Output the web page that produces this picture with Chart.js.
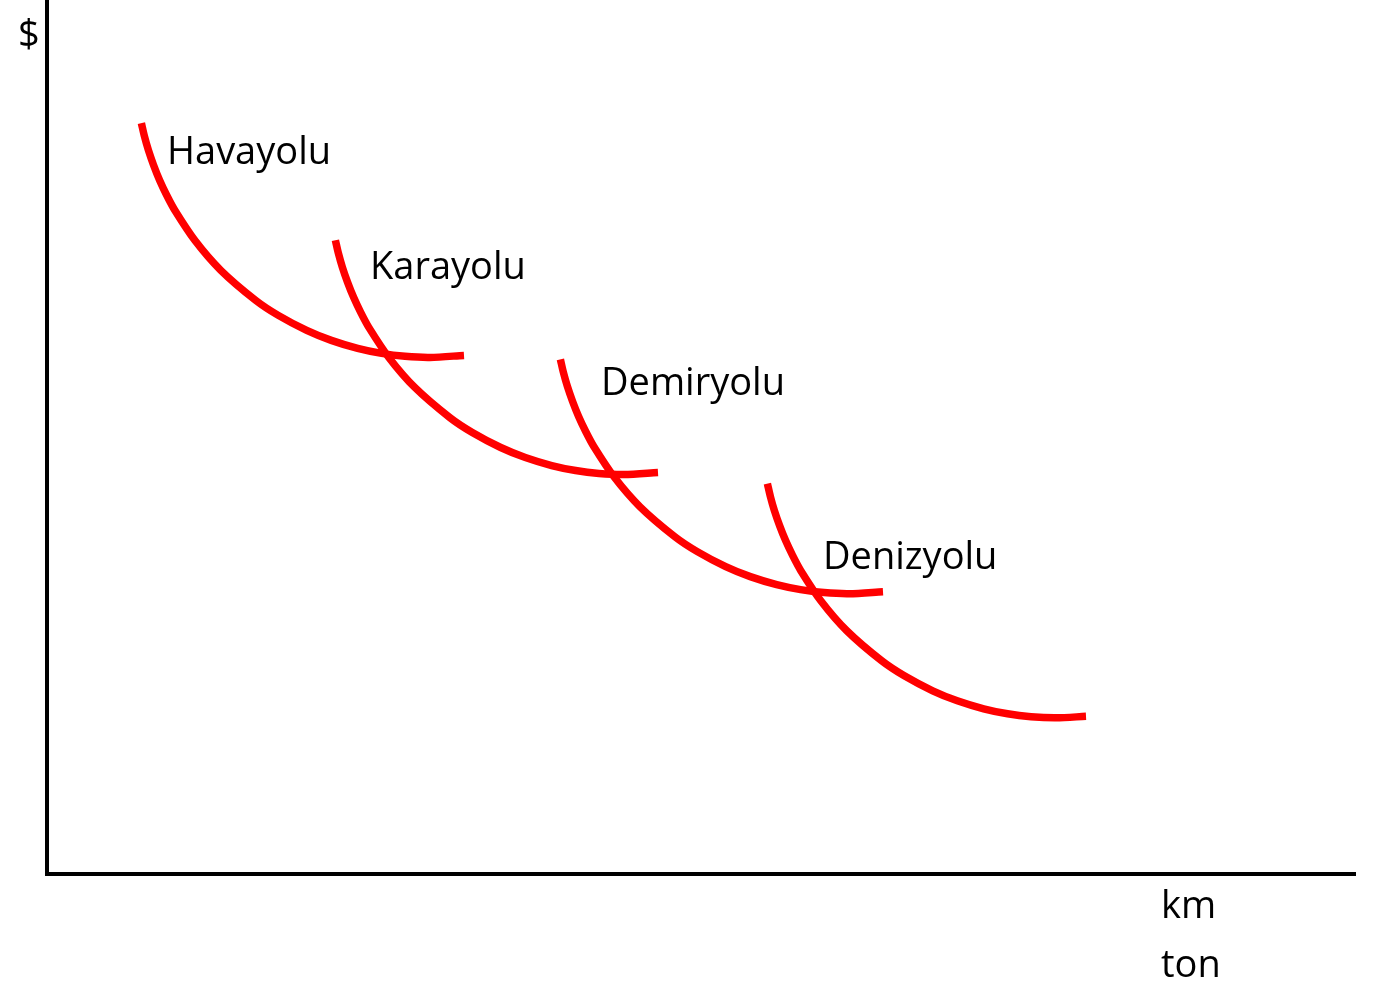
<!DOCTYPE html>
<html>
<head>
<meta charset="utf-8">
<script src="https://cdn.jsdelivr.net/npm/chart.js@4"></script>
<style>
  html, body { margin: 0; padding: 0; background: #fff; }
  #wrap { width: 1380px; height: 984px; position: relative; }
</style>
</head>
<body>
<div id="wrap"><canvas id="costChart"></canvas></div>
<script>
// ------------------------------------------------ DATA ------------------------------------------------
// x = distance/volume (km, ton), y = cost ($); plain units, axis starts at 0

const havayoluX = [94.4, 97.4, 101.4, 106.6, 112.6, 119.7, 127.8, 147.8, 173.8, 208.7, 231.3, 259.7, 284.3, 310.7, 334.6, 358, 383, 417];
const havayoluY = [750, 737, 723, 708, 693, 678, 663, 633, 603, 573, 558, 543, 533, 525, 520, 517.1, 516, 518];

const karayoluX = [288.4, 291.4, 295.4, 300.6, 306.6, 313.7, 321.8, 341.8, 367.8, 402.7, 425.3, 453.7, 478.3, 504.7, 528.6, 552, 577, 611];
const karayoluY = [633, 620, 606, 591, 576, 561, 546, 516, 486, 456, 441, 426, 416, 408, 403, 400.1, 399, 401];

const demiryoluX = [513.4, 516.4, 520.4, 525.6, 531.6, 538.7, 546.8, 566.8, 592.8, 627.7, 650.3, 678.7, 703.3, 729.7, 753.6, 777, 802, 836];
const demiryoluY = [514, 501, 487, 472, 457, 442, 427, 397, 367, 337, 322, 307, 297, 289, 284, 281.1, 280, 282];

const denizyoluX = [720.4, 723.4, 727.4, 732.6, 738.6, 745.7, 753.8, 773.8, 799.8, 834.7, 857.3, 885.7, 910.3, 936.7, 960.6, 984, 1009, 1039];
const denizyoluY = [390, 377, 363, 348, 333, 318, 303, 273, 243, 213, 198, 183, 173, 165, 160, 157.1, 156, 157.5];

const seriesNames = ['Havayolu', 'Karayolu', 'Demiryolu', 'Denizyolu'];

const xAxisMax = 1308;
const yAxisMax = 871;

// label anchors (left / baseline) in data units
const labelSpots = [
    { text: 'Havayolu', x: 120, y: 709 },
    { text: 'Karayolu', x: 323, y: 594 },
    { text: 'Demiryolu', x: 554, y: 478 },
    { text: 'Denizyolu', x: 776, y: 305 }
];

const FONT = '38px "Open Sans", "Noto Sans", sans-serif';

function toPoints(xs, ys) {
    return xs.map((x, i) => ({ x: x, y: ys[i] }));
}

const curveData = [
    toPoints(havayoluX, havayoluY),
    toPoints(karayoluX, karayoluY),
    toPoints(demiryoluX, demiryoluY),
    toPoints(denizyoluX, denizyoluY)
];

// text: curve names + axis captions
const textPlugin = {
    id: 'curveText',
    afterDraw(chart) {
        const ctx = chart.ctx;
        const xs = chart.scales.x;
        const ys = chart.scales.y;
        ctx.save();
        ctx.font = FONT;
        ctx.fillStyle = '#000';
        ctx.textAlign = 'left';
        ctx.textBaseline = 'alphabetic';
        labelSpots.forEach(l => {
            ctx.fillText(l.text, xs.getPixelForValue(l.x), ys.getPixelForValue(l.y));
        });
        // axis captions
        ctx.fillText('$', 18, 47);
        ctx.fillText('km', 1161, 918);
        ctx.fillText('ton', 1161, 977);
        ctx.restore();
    }
};

new Chart(document.getElementById('costChart'), {
    type: 'scatter',
    data: {
        datasets: curveData.map((pts, i) => ({
            label: seriesNames[i],
            data: pts,
            showLine: true,
            borderColor: '#ff0000',
            backgroundColor: '#ff0000',
            borderWidth: 7.5,
            pointRadius: 0,
            pointHoverRadius: 0,
            tension: 0.3,
            borderCapStyle: 'butt'
        }))
    },
    options: {
        responsive: true,
        maintainAspectRatio: false,
        animation: false,
        layout: { padding: { left: 39, right: 25, top: 2, bottom: 102 } },
        plugins: {
            legend: { display: false },
            tooltip: { enabled: false },
            title: { display: false }
        },
        scales: {
            x: {
                type: 'linear',
                min: 0,
                max: xAxisMax,
                ticks: { display: false },
                grid: { display: false },
                border: { display: true, color: '#000', width: 4 }
            },
            y: {
                type: 'linear',
                min: 0,
                max: yAxisMax,
                ticks: { display: false },
                grid: { display: false },
                border: { display: true, color: '#000', width: 4 }
            }
        }
    },
    plugins: [textPlugin]
});
</script>
</body>
</html>
